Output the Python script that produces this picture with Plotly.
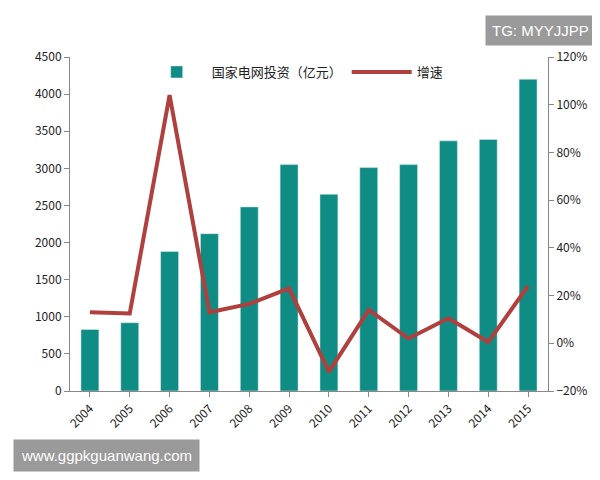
import plotly.graph_objects as go

years = ["2004", "2005", "2006", "2007", "2008", "2009", "2010", "2011", "2012", "2013", "2014", "2015"]
invest = [830, 920, 1880, 2120, 2480, 3050, 2650, 3010, 3050, 3370, 3390, 4200]
growth = [13, 12.5, 104, 13, 16.5, 23, -12, 14, 2, 10.5, 0.5, 24]

fig = go.Figure()
fig.add_trace(go.Bar(x=years, y=invest, name="国家电网投资（亿元）",
                     marker_color="#0F8C83", width=0.45))
fig.add_trace(go.Scatter(x=years, y=growth, name="增速", yaxis="y2", mode="lines",
                         line=dict(color="#B0403E", width=4)))

fig.update_layout(
    width=600, height=480,
    paper_bgcolor="white", plot_bgcolor="white",
    margin=dict(l=62, r=60, t=49, b=97),
    font=dict(family="Noto Sans CJK SC", size=12, color="#222"),
    showlegend=True,
    legend=dict(orientation="h", x=0.15, y=1.0, yanchor="top", font=dict(size=13),
                bgcolor="rgba(0,0,0,0)", itemwidth=60),
    xaxis=dict(tickangle=-45, showline=True, linecolor="#888", ticks="outside",
               tickcolor="#888", showgrid=False),
    yaxis=dict(range=[0, 4500], dtick=500, showline=True, linecolor="#888", ticks="outside",
               tickcolor="#888", showgrid=False, zeroline=False),
    yaxis2=dict(range=[-20, 120], dtick=20, overlaying="y", side="right", ticksuffix="%",
                showline=True, linecolor="#888", ticks="outside", tickcolor="#888",
                showgrid=False, zeroline=False),
    annotations=[
        dict(text="TG: MYYJJPP", xref="paper", yref="paper", x=1.1, y=1.125,
             xanchor="right", yanchor="top", showarrow=False, bgcolor="#9a9a9a",
             font=dict(color="white", size=15, family="Liberation Sans"), borderpad=6),
        dict(text="www.ggpkguanwang.com", xref="paper", yref="paper", x=-0.12, y=-0.145,
             xanchor="left", yanchor="top", showarrow=False, bgcolor="#9a9a9a",
             font=dict(color="white", size=15, family="Liberation Sans"), borderpad=7),
    ],
)

fig.write_html("out.html")
